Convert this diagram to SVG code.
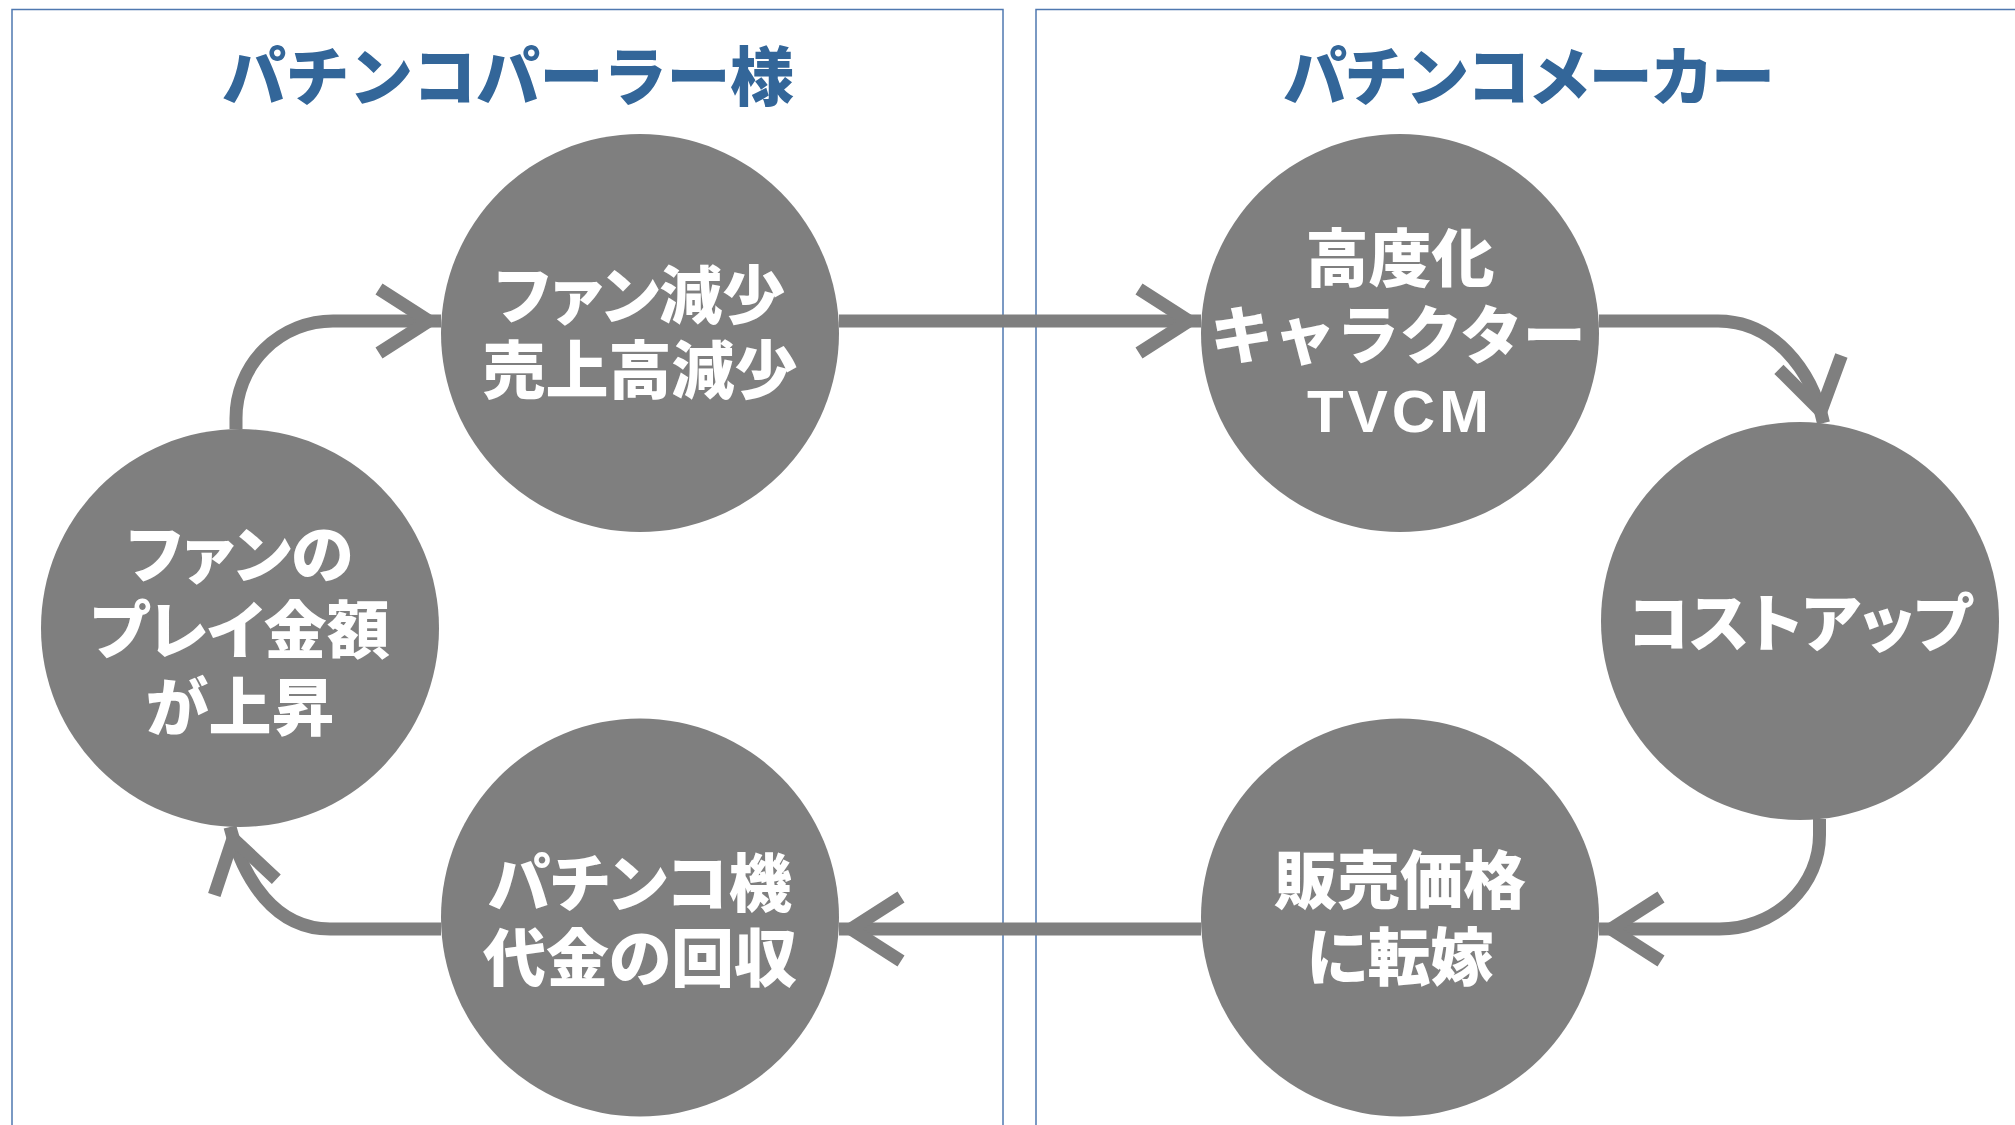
<svg xmlns="http://www.w3.org/2000/svg" width="2015" height="1125" viewBox="0 0 2015 1125">
  <style>
    .panel { fill: none; stroke: #4f78b0; stroke-width: 1.5; }
    .title { font-family: "Noto Sans CJK JP", sans-serif; font-weight: 900; font-size: 64px; fill: #336699; text-anchor: middle; }
    .node circle { fill: #7f7f7f; }
    .lbl { font-family: "Noto Sans CJK JP", sans-serif; font-weight: 900; font-size: 63px; fill: #ffffff; text-anchor: middle; font-feature-settings: "palt"; }
    .mono { font-feature-settings: normal; }
    .latin { font-family: "Liberation Sans", Arial, sans-serif; font-weight: bold; font-size: 60px; letter-spacing: 4px; }
    .conn { fill: none; stroke: #7f7f7f; stroke-width: 13; marker-end: url(#arrow); }
  </style>
  <defs>
    <marker id="arrow" markerUnits="userSpaceOnUse" markerWidth="80" markerHeight="90" viewBox="-60 -45 80 90" refX="12" refY="0" orient="auto" overflow="visible">
      <path d="M -50 -32 L 0 0 L -50 32" fill="none" stroke="#7f7f7f" stroke-width="13" stroke-linejoin="miter" stroke-miterlimit="10"/>
    </marker>
  </defs>
  <rect width="2015" height="1125" fill="#ffffff"/>

  <g id="panel-parlor">
    <rect class="panel" x="12" y="9.5" width="991" height="1140"/>
    <text class="title" x="508" y="100" textLength="572" lengthAdjust="spacing">パチンコパーラー様</text>
  </g>
  <g id="panel-maker">
    <rect class="panel" x="1036" y="9.5" width="1000" height="1140"/>
    <text class="title" x="1529" y="100" textLength="492" lengthAdjust="spacing">パチンコメーカー</text>
  </g>

  <g id="connectors">
    <path class="conn" d="M 236 429 L 236 418 A 97 97 0 0 1 333 321 L 441 321"/>
    <path class="conn" d="M 839 321 L 1201 321"/>
    <path class="conn" d="M 1599 321 L 1718 321 C 1773 321 1811.6 369 1823.5 423"/>
    <path class="conn" d="M 1819.5 819 L 1819.5 835 A 100 94 0 0 1 1719.5 929 L 1599 929"/>
    <path class="conn" d="M 1201 929 L 839 929"/>
    <path class="conn" d="M 441 929 L 330 929 C 275 929 243.5 880 230 827"/>
  </g>

  <g id="node-fan-decrease" class="node">
    <circle cx="640" cy="333" r="199"/>
    <text class="lbl" x="640" y="318">ファン減少</text>
    <text class="lbl" x="640" y="393">売上高減少</text>
  </g>
  <g id="node-play-amount" class="node">
    <circle cx="240" cy="628" r="199"/>
    <text class="lbl" x="240" y="577">ファンの</text>
    <text class="lbl" x="240" y="653">プレイ金額</text>
    <text class="lbl" x="240" y="730">が上昇</text>
  </g>
  <g id="node-machine-cost" class="node">
    <circle cx="640" cy="917.5" r="199"/>
    <text class="lbl" x="640" y="906">パチンコ機</text>
    <text class="lbl" x="640" y="981">代金の回収</text>
  </g>
  <g id="node-advanced" class="node">
    <circle cx="1400" cy="333" r="199"/>
    <text class="lbl" x="1400" y="281">高度化</text>
    <text class="lbl mono" x="1398" y="358">キャラクター</text>
    <text class="lbl latin" x="1400" y="432">TVCM</text>
  </g>
  <g id="node-cost-up" class="node">
    <circle cx="1800" cy="621" r="199"/>
    <text class="lbl" x="1800" y="646">コストアップ</text>
  </g>
  <g id="node-price" class="node">
    <circle cx="1400" cy="917.5" r="199"/>
    <text class="lbl" x="1400" y="903">販売価格</text>
    <text class="lbl" x="1400" y="980">に転嫁</text>
  </g>
</svg>
